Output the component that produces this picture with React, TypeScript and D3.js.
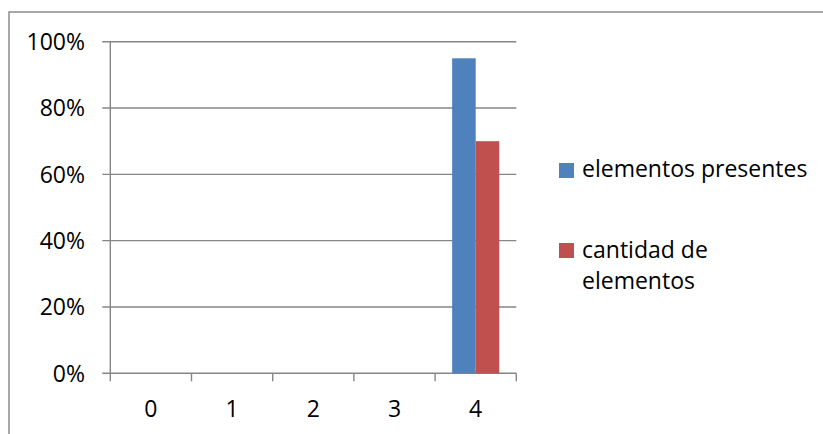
import React from "react";
import * as d3 from "d3";

const categories = ["0", "1", "2", "3", "4"];
const elementosPresentes = [0, 0, 0, 0, 0.95];
const cantidadDeElementos = [0, 0, 0, 0, 0.7];
const yTicks = [0, 0.2, 0.4, 0.6, 0.8, 1];
const seriesNames = ["elementos presentes", "cantidad de elementos"];
const seriesColors = ["#4F81BD", "#C0504D"];

const W = 823;
const H = 434;
const FONT = "'Open Sans', sans-serif";
const FS = 23;

export default function App() {
  const plot = { left: 110.3, right: 516.3, top: 41.7, bottom: 373.3 };

  const x = d3.scaleBand<string>().domain(categories).range([plot.left, plot.right]).padding(0);
  const y = d3.scaleLinear().domain([0, 1]).range([plot.bottom, plot.top]);

  const groupFrac = 0.58;
  const inner = d3
    .scaleBand<number>()
    .domain([0, 1])
    .range([0, x.bandwidth() * groupFrac])
    .padding(0);
  const groupOffset = (x.bandwidth() * (1 - groupFrac)) / 2;

  const series = [elementosPresentes, cantidadDeElementos];
  const grid = "#868686";
  const tickLen = 8;

  return (
    <div style={{ position: "fixed", left: 0, top: 0 }}>
      <svg width={W} height={H} style={{ display: "block", background: "#fff" }}>
        {/* chart frame */}
        <rect x={9} y={12} width={W + 20} height={H + 20} fill="#fff" stroke="#8c8c8c" strokeWidth={1.5} />

        {/* horizontal gridlines and y ticks */}
        {yTicks.map((t) => (
          <g key={t}>
            <line x1={plot.left - tickLen} x2={plot.right} y1={y(t)} y2={y(t)} stroke={grid} strokeWidth={1.4} />
            <text
              x={85}
              y={y(t) + 8.3}
              textAnchor="end"
              fontFamily={FONT}
              fontSize={FS}
              fill="#000"
            >
              {`${Math.round(t * 100)}%`}
            </text>
          </g>
        ))}

        {/* bars */}
        {series.map((vals, si) =>
          vals.map((v, ci) =>
            v > 0 ? (
              <rect
                key={`${si}-${ci}`}
                x={(x(categories[ci]) as number) + groupOffset + (inner(si) as number)}
                y={y(v)}
                width={inner.bandwidth()}
                height={y(0) - y(v)}
                fill={seriesColors[si]}
              />
            ) : null
          )
        )}

        {/* y axis line */}
        <line x1={plot.left} x2={plot.left} y1={plot.top} y2={plot.bottom + tickLen} stroke={grid} strokeWidth={1.4} />

        {/* x axis ticks and labels */}
        {categories.map((c, i) => (
          <g key={c}>
            <line
              x1={(x(c) as number) + x.bandwidth()}
              x2={(x(c) as number) + x.bandwidth()}
              y1={plot.bottom}
              y2={plot.bottom + tickLen}
              stroke={grid}
              strokeWidth={1.4}
            />
            <text
              x={(x(c) as number) + x.bandwidth() / 2}
              y={417}
              textAnchor="middle"
              fontFamily={FONT}
              fontSize={FS}
              fill="#000"
            >
              {c}
            </text>
          </g>
        ))}

        {/* legend */}
        <rect x={559} y={163} width={15} height={15} fill={seriesColors[0]} />
        <text x={582} y={177} fontFamily={FONT} fontSize={FS} fill="#000">
          {seriesNames[0]}
        </text>
        <rect x={559} y={243} width={15} height={15} fill={seriesColors[1]} />
        <text x={582} y={258} fontFamily={FONT} fontSize={FS} fill="#000">
          <tspan x={582}>cantidad de</tspan>
          <tspan x={582} dy={31}>elementos</tspan>
        </text>
      </svg>
    </div>
  );
}
